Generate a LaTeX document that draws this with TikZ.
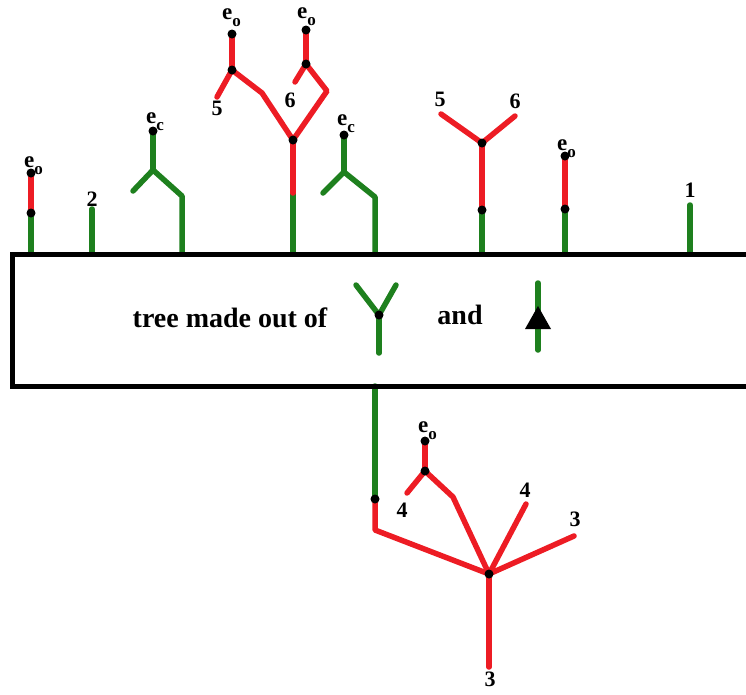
\documentclass[tikz,border=0pt]{standalone}
\usepackage{fontspec}
\setmainfont{Liberation Serif}
\definecolor{tg}{RGB}{30,128,30}
\definecolor{tr}{RGB}{237,28,36}
\newcommand\esublab[1]{e\raisebox{-7pt}{\fontsize{17}{17}\selectfont #1}}
\begin{document}
\begin{tikzpicture}[x=1pt,y=-1pt,
  gl/.style={draw=tg,line width=5.5pt,line cap=round,line join=round},
  rl/.style={draw=tr,line width=5.5pt,line cap=round,line join=round},
  dot/.style={circle,fill=black,inner sep=0pt,minimum size=9pt},
  num/.style={font=\fontsize{22}{22}\selectfont\bfseries,inner sep=0pt},
  elab/.style={font=\fontsize{23}{23}\selectfont\bfseries,inner sep=0pt,anchor=base west},
  big/.style={font=\fontsize{28}{28}\selectfont\bfseries,inner sep=0pt,anchor=base},
  frame/.style={draw=black,line width=5pt}]
\useasboundingbox (0,0) rectangle (746,694);

% ---------- coordinates ----------
% tree 1
\coordinate (a0) at (31,254); \coordinate (a1) at (31,213); \coordinate (a2) at (31,173);
% tree 2
\coordinate (b0) at (92,254); \coordinate (b1) at (92,209);
% tree 3
\coordinate (c0) at (182,254); \coordinate (c1) at (182,196); \coordinate (c2) at (153,170);
\coordinate (c3) at (133,191); \coordinate (c4) at (153,131);
% tree 4
\coordinate (d0) at (293,254); \coordinate (d1) at (293,193); \coordinate (d2) at (293,140);
\coordinate (d3) at (262,93); \coordinate (d4) at (232,70); \coordinate (d5) at (232,34);
\coordinate (d6) at (217,97);
\coordinate (d7) at (327,91); \coordinate (d8) at (306,64); \coordinate (d9) at (306,30);
\coordinate (d10) at (295,82);
% tree 5
\coordinate (e0) at (375,254); \coordinate (e1) at (375,197); \coordinate (e2) at (344,172);
\coordinate (e3) at (323,193); \coordinate (e4) at (344,135);
% tree 6
\coordinate (f0) at (482,254); \coordinate (f1) at (482,210); \coordinate (f2) at (482,143);
\coordinate (f3) at (441,114); \coordinate (f4) at (515,116);
% tree 7
\coordinate (g0) at (565,254); \coordinate (g1) at (565,209); \coordinate (g2) at (565,156);
% tree 8
\coordinate (h0) at (690,254); \coordinate (h1) at (690,205);
% bottom tree
\coordinate (k0) at (375,386); \coordinate (k1) at (375,499); \coordinate (k2) at (375,530);
\coordinate (k3) at (489,574); \coordinate (k4) at (489,667); \coordinate (k5) at (526,504);
\coordinate (k6) at (574,536); \coordinate (k7) at (453,497); \coordinate (k8) at (425,471);
\coordinate (k9) at (425,441); \coordinate (k10) at (407,493);
% legend
\coordinate (y1) at (356,285); \coordinate (y2) at (396,285); \coordinate (y0) at (379,315);
\coordinate (y3) at (379,353);
\coordinate (s1) at (538,283); \coordinate (s2) at (538,350);
\coordinate (t1) at (538,306); \coordinate (t2) at (525,329); \coordinate (t3) at (551,329);
% box corners
\coordinate (bx1) at (746,254); \coordinate (bx2) at (12,254);
\coordinate (bx3) at (12,386); \coordinate (bx4) at (746,386);

% ---------- edges ----------
\draw[gl] (a0) -- (a1); \draw[rl] (a1) -- (a2);
\draw[gl] (b0) -- (b1);
\draw[gl] (c0) -- (c1) -- (c2) -- (c3); \draw[gl] (c2) -- (c4);
\draw[gl] (d0) -- (d1); \draw[rl] (d1) -- (d2);
\draw[rl] (d2) -- (d3) -- (d4); \draw[rl] (d4) -- (d5); \draw[rl] (d4) -- (d6);
\draw[rl] (d2) -- (d7) -- (d8); \draw[rl] (d8) -- (d9); \draw[rl] (d8) -- (d10);
\draw[gl] (e0) -- (e1) -- (e2) -- (e3); \draw[gl] (e2) -- (e4);
\draw[gl] (f0) -- (f1); \draw[rl] (f1) -- (f2); \draw[rl] (f2) -- (f3); \draw[rl] (f2) -- (f4);
\draw[gl] (g0) -- (g1); \draw[rl] (g1) -- (g2);
\draw[gl] (h0) -- (h1);
\draw[gl] (k0) -- (k1); \draw[rl] (k1) -- (k2) -- (k3);
\draw[rl] (k3) -- (k4); \draw[rl] (k3) -- (k5); \draw[rl] (k3) -- (k6);
\draw[rl] (k3) -- (k7) -- (k8); \draw[rl] (k8) -- (k9); \draw[rl] (k8) -- (k10);
\draw[gl] (y1) -- (y0) -- (y2); \draw[gl] (y0) -- (y3);
\draw[gl] (s1) -- (s2);
\fill[black] (t1) -- (t2) -- (t3) -- cycle;

% ---------- box ----------
\draw[frame] (bx1) -- (bx2) -- (bx3) -- (bx4);

% ---------- dots ----------
\foreach \p in {a1,a2,c4,d2,d4,d5,d8,d9,e4,f1,f2,g1,g2,k1,k3,k8,k9,y0}
  \node[dot] (\p-dot) at (\p) {};

% ---------- labels ----------
\node[elab] (la) at (24,167) {\esublab{o}};
\node[num] (lb) at (92,199) {2};
\node[elab] (lc) at (146,123) {\esublab{c}};
\node[elab] (ld1) at (222,19) {\esublab{o}};
\node[num] (ld2) at (217,108) {5};
\node[elab] (ld3) at (297,18) {\esublab{o}};
\node[num] (ld4) at (290,100) {6};
\node[elab] (le) at (337,125) {\esublab{c}};
\node[num] (lf1) at (440,99) {5};
\node[num] (lf2) at (515,101) {6};
\node[elab] (lg) at (557,150) {\esublab{o}};
\node[num] (lh) at (690,190) {1};
\node[elab] (lk1) at (418,432) {\esublab{o}};
\node[num] (lk2) at (402,510) {4};
\node[num] (lk3) at (525,490) {4};
\node[num] (lk4) at (575,519) {3};
\node[num] (lk5) at (490,679) {3};
\node[big] (tx1) at (230,327) {tree made out of};
\node[big] (tx2) at (460,324) {and};
\end{tikzpicture}
\end{document}
